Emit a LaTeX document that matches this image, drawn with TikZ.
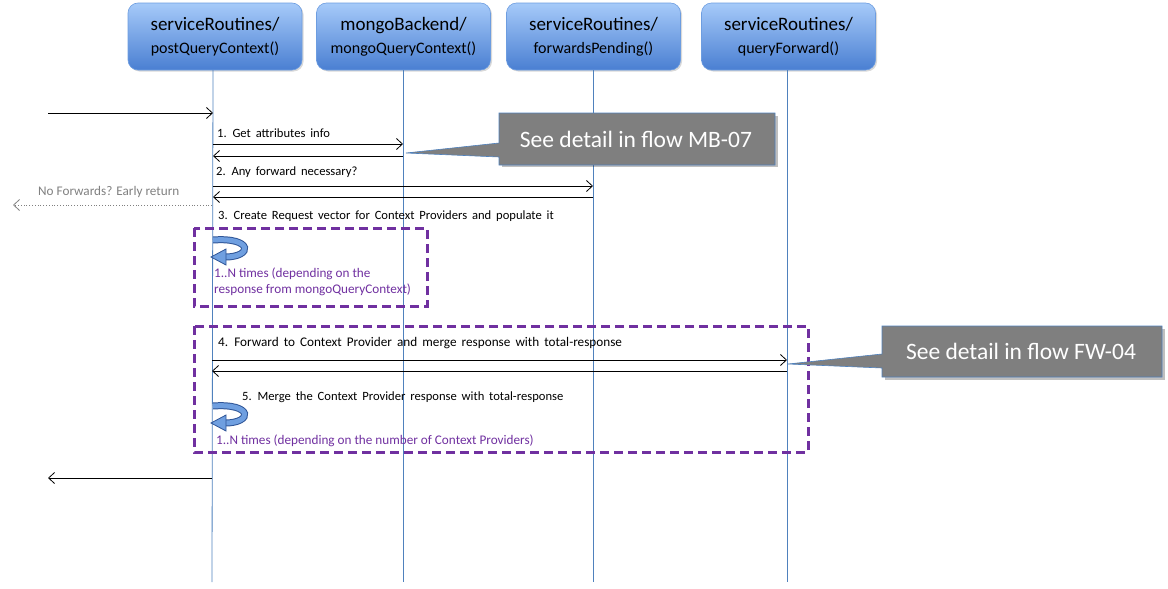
\documentclass[tikz,border=0pt]{standalone}
\usepackage{fontspec}
\setmainfont{Carlito}
\newfontfamily\lblfont[WordSpace=1.7]{Carlito}
\usetikzlibrary{arrows.meta,shadows}
\definecolor{lifeblue}{HTML}{4F81BD}
\definecolor{boxtop}{HTML}{A6CAF9}
\definecolor{boxbot}{HTML}{4A7FD2}
\definecolor{boxedge}{HTML}{6D9DE0}
\definecolor{purp}{HTML}{7030A0}
\definecolor{callgray}{HTML}{7F7F7F}
\definecolor{loopdark}{HTML}{2F5597}
\definecolor{loopfill}{HTML}{6F9FE0}
\tikzset{
  header/.style={minimum width=174pt, minimum height=67pt, rounded corners=10pt,
    top color=boxtop, bottom color=boxbot, draw=boxedge, line width=0.6pt,
    align=center, inner sep=0pt, font=\fontsize{19}{23}\selectfont,
    drop shadow={shadow xshift=1.5pt, shadow yshift=-1.5pt, opacity=0.3}},
  lifeline/.style={draw=lifeblue, line width=0.8pt},
  msg/.style={draw=black, line width=0.8pt, -{Straight Barb[length=6pt,width=11pt,line width=0.8pt]}},
  lbl/.style={anchor=west, inner sep=0pt, font=\lblfont\fontsize{12.6}{14}\selectfont},
  note/.style={anchor=west, inner sep=0pt, text=purp, font=\fontsize{13.2}{16.5}\selectfont, align=left},
  loopbox/.style={draw=purp, line width=3pt, dash pattern=on 9pt off 5pt},
  callout/.style={fill=callgray, draw=lifeblue, line width=0.6pt},
  calltext/.style={text=white, font=\fontsize{23.5}{26}\selectfont, inner sep=0pt},
}
\newcommand{\smallfn}[1]{{\fontsize{16}{23}\selectfont #1}}
\newcommand{\loopicon}[2]{%
  \draw[line width=7pt, draw=loopdark] (#1+2,#2+4) .. controls (#1+42,#2+1) and (#1+42,#2+21) .. (#1+14,#2+21);
  \draw[line width=5pt, draw=loopfill] (#1+2,#2+4) .. controls (#1+42,#2+1) and (#1+42,#2+21) .. (#1+14,#2+21);
  \filldraw[fill=loopfill, draw=loopdark, line width=0.8pt] (#1,#2+21) -- (#1+15,#2+13) -- (#1+15,#2+29) -- cycle;
}
\begin{document}
\begin{tikzpicture}[x=1pt,y=-1pt]
\useasboundingbox (0,0) rectangle (1168,589);

% header boxes
\node[header] (h1) at (215,36.5) {serviceRoutines/\\\smallfn{postQueryContext()}};
\node[header] (h2) at (403.5,36.5) {mongoBackend/\\\smallfn{mongoQueryContext()}};
\node[header] (h3) at (593.5,36.5) {serviceRoutines/\\\smallfn{forwardsPending()}};
\node[header] (h4) at (788.5,36.5) {serviceRoutines/\\\smallfn{queryForward()}};

% lifelines
\coordinate (t1) at (213,70); \coordinate (b1) at (212,582);
\coordinate (t2) at (403,70); \coordinate (b2) at (403,582);
\coordinate (t3) at (593,70); \coordinate (b3) at (593,582);
\coordinate (t4) at (787,70); \coordinate (b4) at (787,582);
\draw[lifeline] (t1) -- (b1);
\draw[lifeline] (t2) -- (b2);
\draw[lifeline] (t3) -- (b3);
\draw[lifeline] (t4) -- (b4);

% dashed loop boxes
\draw[loopbox] (194,228) rectangle (427,306);
\draw[loopbox] (194,326) rectangle (808,452);

% messages
\coordinate (in0) at (48,113); \coordinate (in1) at (213,113);
\draw[msg] (in0) -- (in1);

\node[lbl] (l1) at (217,133) {1. Get attributes info};
\coordinate (m1a) at (213,144); \coordinate (m1b) at (403,144);
\draw[msg] (m1a) -- (m1b);
\coordinate (r1a) at (403,156); \coordinate (r1b) at (213,156);
\draw[msg] (r1a) -- (r1b);

\node[lbl] (l2) at (216,172) {2. Any forward necessary?};
\coordinate (m2a) at (213,186); \coordinate (m2b) at (593,186);
\draw[msg] (m2a) -- (m2b);
\coordinate (r2a) at (593,197); \coordinate (r2b) at (213,197);
\draw[msg] (r2a) -- (r2b);

\node[lbl, text=gray, font=\fontsize{13.2}{14}\selectfont] (nf) at (38,192) {No Forwards? Early return};
\coordinate (e0) at (212,205); \coordinate (e1) at (13,205);
\draw[msg, draw=gray, dotted, line width=0.9pt] (e0) -- (e1);

\node[lbl] (l3) at (218,216) {3. Create Request vector for Context Providers and populate it};

\loopicon{211}{236}
\node[note] (n1) at (214,282) {1..N times (depending on the\\response from mongoQueryContext)};

\node[lbl, font=\lblfont\fontsize{13.2}{14}\selectfont] (l4) at (218,343) {4. Forward to Context Provider and merge response with total-response};
\coordinate (m4a) at (212,360); \coordinate (m4b) at (787,360);
\draw[msg] (m4a) -- (m4b);
\coordinate (r4a) at (787,371); \coordinate (r4b) at (212,371);
\draw[msg] (r4a) -- (r4b);

\node[lbl] (l5) at (242,397) {5. Merge the Context Provider response with total-response};
\loopicon{211}{402}
\node[note] (n2) at (216,441) {1..N times (depending on the number of Context Providers)};

\coordinate (o0) at (212,478); \coordinate (o1) at (48,478);
\draw[msg] (o0) -- (o1);

% callouts
\fill[black, opacity=0.25] (502,116) rectangle (778,167);
\draw[callout] (499,113) -- (775,113) -- (775,165) -- (499,165) -- (499,157) -- (406,153) -- (499,143) -- cycle;
\node[calltext] (c1) at (636,139) {See detail in flow MB-07};

\fill[black, opacity=0.25] (885,329) rectangle (1165,380);
\draw[callout] (882,326) -- (1162,326) -- (1162,377) -- (882,377) -- (882,368) -- (788,364) -- (882,354) -- cycle;
\node[calltext] (c2) at (1021,351) {See detail in flow FW-04};
\end{tikzpicture}
\end{document}
